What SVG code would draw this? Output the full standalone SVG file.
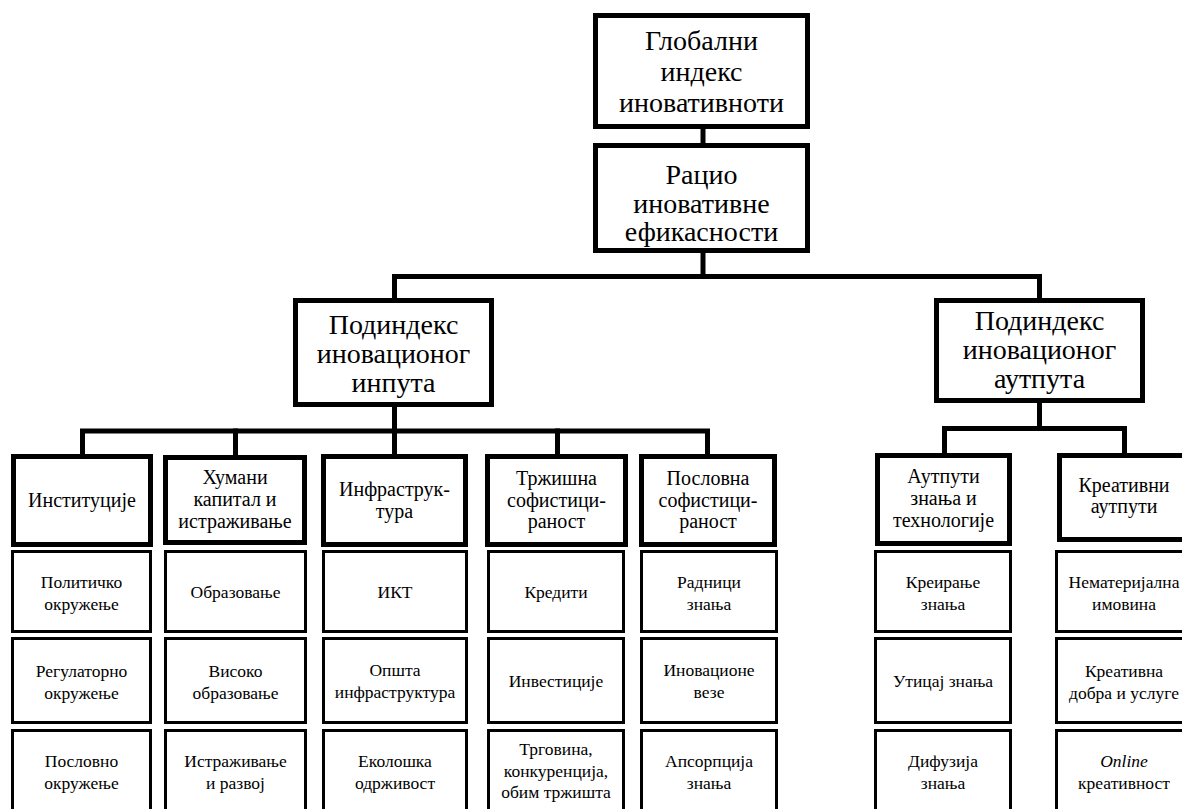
<svg xmlns="http://www.w3.org/2000/svg" width="1182" height="809" viewBox="0 0 1182 809">
  <style>
    .bg { fill: #ffffff; }
    .wire { fill: none; stroke: #000; stroke-width: 5; stroke-linejoin: miter; stroke-linecap: square; }
    .main { fill: #fff; stroke: #000; stroke-width: 5; }
    .sub { fill: #fff; stroke: #000; stroke-width: 3; }
    text { fill: #000; text-anchor: middle; font-family: "Liberation Serif", Tinos, "Times New Roman", Times, "Noto Serif", "DejaVu Serif", FreeSerif, "Nimbus Roman", serif; }
    .t1 { font-size: 28px; }
    .t2 { font-size: 20px; }
    .t3 { font-size: 17.5px; }
  </style>
  <rect class="bg" x="0" y="0" width="1182" height="809"/>

  <!-- tree connectors -->
  <g id="connectors">
    <line class="wire" x1="703" y1="129" x2="703" y2="143"/>
    <line class="wire" x1="703" y1="253" x2="703" y2="276.5"/>
    <polyline class="wire" points="394.5,298 394.5,276.5 1039.5,276.5 1039.5,298"/>
    <line class="wire" x1="394.5" y1="407" x2="394.5" y2="431"/>
    <polyline class="wire" points="82.5,454 82.5,431 707.5,431 707.5,454"/>
    <line class="wire" x1="235.5" y1="431" x2="235.5" y2="455"/>
    <line class="wire" x1="394.5" y1="431" x2="394.5" y2="454"/>
    <line class="wire" x1="557.5" y1="431" x2="557.5" y2="454"/>
    <line class="wire" x1="1039.5" y1="403" x2="1039.5" y2="428.5"/>
    <polyline class="wire" points="944.5,453 944.5,428.5 1124.5,428.5 1124.5,453"/>
  </g>

  <!-- top levels -->
  <g id="gii">
    <rect class="main" x="595.5" y="15.5" width="212" height="111"/>
    <text class="t1"><tspan x="701.5" y="50">Глобални</tspan><tspan x="701.5" y="81">индекс</tspan><tspan x="701.5" y="112">иновативноти</tspan></text>
  </g>
  <g id="efficiency">
    <rect class="main" x="595.5" y="145.5" width="212" height="105"/>
    <text class="t1"><tspan x="701.5" y="184">Рацио</tspan><tspan x="701.5" y="213">иновативне</tspan><tspan x="701.5" y="241">ефикасности</tspan></text>
  </g>
  <g id="input-subindex">
    <rect class="main" x="295.5" y="300.5" width="196" height="104"/>
    <text class="t1"><tspan x="393.5" y="334">Подиндекс</tspan><tspan x="393.5" y="363">иновационог</tspan><tspan x="393.5" y="392">инпута</tspan></text>
  </g>
  <g id="output-subindex">
    <rect class="main" x="936.5" y="300.5" width="206" height="100"/>
    <text class="t1"><tspan x="1039.5" y="330">Подиндекс</tspan><tspan x="1039.5" y="359">иновационог</tspan><tspan x="1039.5" y="388">аутпута</tspan></text>
  </g>

  <!-- pillars -->
  <g id="institutions">
    <rect class="main" x="13.5" y="456.5" width="137" height="88"/>
    <text class="t2" x="82" y="507">Институције</text>
  </g>
  <g id="human-capital">
    <rect class="main" x="165.5" y="457.5" width="139" height="85"/>
    <text class="t2"><tspan x="235" y="484">Хумани</tspan><tspan x="235" y="506">капитал и</tspan><tspan x="235" y="528">истраживање</tspan></text>
  </g>
  <g id="infrastructure">
    <rect class="main" x="323.5" y="456.5" width="142" height="88"/>
    <text class="t2"><tspan x="394.5" y="496">Инфраструк-</tspan><tspan x="394.5" y="518">тура</tspan></text>
  </g>
  <g id="market">
    <rect class="main" x="487.5" y="456.5" width="138" height="88"/>
    <text class="t2"><tspan x="556.5" y="485">Тржишна</tspan><tspan x="556.5" y="507">софистици-</tspan><tspan x="556.5" y="528">раност</tspan></text>
  </g>
  <g id="business">
    <rect class="main" x="641.5" y="456.5" width="133" height="88"/>
    <text class="t2"><tspan x="708" y="485">Пословна</tspan><tspan x="708" y="507">софистици-</tspan><tspan x="708" y="528">раност</tspan></text>
  </g>
  <g id="knowledge-outputs">
    <rect class="main" x="877.5" y="455.5" width="132" height="88"/>
    <text class="t2"><tspan x="943.5" y="483">Аутпути</tspan><tspan x="943.5" y="505">знања и</tspan><tspan x="943.5" y="527">технологије</tspan></text>
  </g>
  <g id="creative-outputs">
    <rect class="main" x="1059.5" y="455.5" width="140" height="84"/>
    <text class="t2"><tspan x="1124" y="492">Креативни</tspan><tspan x="1124" y="513">аутпути</tspan></text>
  </g>

  <!-- sub-pillars: column 1 -->
  <g id="political">
    <rect class="sub" x="12.5" y="551.5" width="138" height="80"/>
    <text class="t3"><tspan x="81.5" y="588">Политичко</tspan><tspan x="81.5" y="610">окружење</tspan></text>
  </g>
  <g id="regulatory">
    <rect class="sub" x="12.5" y="638.5" width="138" height="84"/>
    <text class="t3"><tspan x="81.5" y="677">Регулаторно</tspan><tspan x="81.5" y="699">окружење</tspan></text>
  </g>
  <g id="business-env">
    <rect class="sub" x="12.5" y="730.5" width="138" height="90"/>
    <text class="t3"><tspan x="81.5" y="767">Пословно</tspan><tspan x="81.5" y="789">окружење</tspan></text>
  </g>

  <!-- column 2 -->
  <g id="education">
    <rect class="sub" x="165.5" y="551.5" width="140" height="80"/>
    <text class="t3" x="235.5" y="598">Образовање</text>
  </g>
  <g id="tertiary">
    <rect class="sub" x="165.5" y="638.5" width="140" height="84"/>
    <text class="t3"><tspan x="235.5" y="677">Високо</tspan><tspan x="235.5" y="699">образовање</tspan></text>
  </g>
  <g id="rnd">
    <rect class="sub" x="165.5" y="730.5" width="140" height="90"/>
    <text class="t3"><tspan x="235.5" y="767">Истраживање</tspan><tspan x="235.5" y="789">и развој</tspan></text>
  </g>

  <!-- column 3 -->
  <g id="ict">
    <rect class="sub" x="323.5" y="551.5" width="143" height="80"/>
    <text class="t3" x="395" y="598">ИКТ</text>
  </g>
  <g id="general-infra">
    <rect class="sub" x="323.5" y="638.5" width="143" height="84"/>
    <text class="t3"><tspan x="395" y="676">Општа</tspan><tspan x="395" y="698">инфраструктура</tspan></text>
  </g>
  <g id="ecology">
    <rect class="sub" x="323.5" y="730.5" width="143" height="90"/>
    <text class="t3"><tspan x="395" y="767">Еколошка</tspan><tspan x="395" y="789">одрживост</tspan></text>
  </g>

  <!-- column 4 -->
  <g id="credit">
    <rect class="sub" x="488.5" y="551.5" width="135" height="80"/>
    <text class="t3" x="556" y="598">Кредити</text>
  </g>
  <g id="investment">
    <rect class="sub" x="488.5" y="638.5" width="135" height="84"/>
    <text class="t3" x="556" y="687">Инвестиције</text>
  </g>
  <g id="trade">
    <rect class="sub" x="488.5" y="730.5" width="135" height="90"/>
    <text class="t3"><tspan x="556" y="755">Трговина,</tspan><tspan x="556" y="777">конкуренција,</tspan><tspan x="556" y="798">обим тржишта</tspan></text>
  </g>

  <!-- column 5 -->
  <g id="knowledge-workers">
    <rect class="sub" x="641.5" y="551.5" width="135" height="80"/>
    <text class="t3"><tspan x="709" y="588">Радници</tspan><tspan x="709" y="610">знања</tspan></text>
  </g>
  <g id="linkages">
    <rect class="sub" x="641.5" y="638.5" width="135" height="84"/>
    <text class="t3"><tspan x="709" y="676">Иновационе</tspan><tspan x="709" y="698">везе</tspan></text>
  </g>
  <g id="absorption">
    <rect class="sub" x="641.5" y="730.5" width="135" height="90"/>
    <text class="t3"><tspan x="709" y="767">Апсорпција</tspan><tspan x="709" y="789">знања</tspan></text>
  </g>

  <!-- column 6 -->
  <g id="creation">
    <rect class="sub" x="875.5" y="551.5" width="135" height="80"/>
    <text class="t3"><tspan x="943" y="588">Креирање</tspan><tspan x="943" y="610">знања</tspan></text>
  </g>
  <g id="impact">
    <rect class="sub" x="875.5" y="638.5" width="135" height="84"/>
    <text class="t3" x="943" y="687">Утицај знања</text>
  </g>
  <g id="diffusion">
    <rect class="sub" x="875.5" y="730.5" width="135" height="90"/>
    <text class="t3"><tspan x="943" y="767">Дифузија</tspan><tspan x="943" y="789">знања</tspan></text>
  </g>

  <!-- column 7 -->
  <g id="intangible">
    <rect class="sub" x="1056.5" y="551.5" width="140" height="80"/>
    <text class="t3"><tspan x="1124" y="588">Нематеријална</tspan><tspan x="1124" y="610">имовина</tspan></text>
  </g>
  <g id="creative-goods">
    <rect class="sub" x="1056.5" y="638.5" width="140" height="84"/>
    <text class="t3"><tspan x="1124" y="677">Креативна</tspan><tspan x="1124" y="699">добра и услуге</tspan></text>
  </g>
  <g id="online">
    <rect class="sub" x="1056.5" y="730.5" width="140" height="90"/>
    <text class="t3"><tspan x="1124" y="767" font-style="italic">Online</tspan><tspan x="1124" y="789">креативност</tspan></text>
  </g>
</svg>
